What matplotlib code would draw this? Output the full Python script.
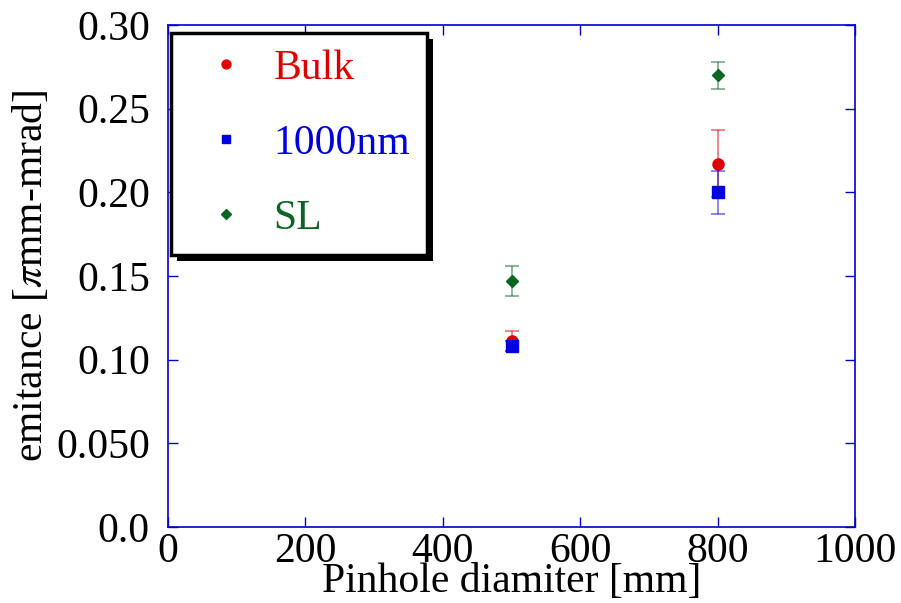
import matplotlib
matplotlib.use("Agg")
import matplotlib.pyplot as plt
from matplotlib.patches import Rectangle

plt.rcParams['font.family'] = ['Liberation Serif', 'DejaVu Serif']
plt.rcParams['mathtext.fontset'] = 'stix'

diam = [500, 800]
bulk = [0.111, 0.217]
bulk_err = [0.006, 0.020]
nm1000 = [0.108, 0.200]
nm1000_err = [0.003, 0.013]
sl = [0.147, 0.270]
sl_err = [0.009, 0.008]

yticks = [0.0, 0.05, 0.10, 0.15, 0.20, 0.25, 0.30]
ylabels = ["0.0", "0.050", "0.10", "0.15", "0.20", "0.25", "0.30"]
xticks = [0, 200, 400, 600, 800, 1000]

red = '#e00000'
blue = '#0000dd'
green = '#0b6623'
spine = '#0000cc'
FS = 30

fig = plt.figure(figsize=(9.01, 6.03), dpi=100)
ax = fig.add_axes([168/901, 1-527/603, (855-168)/901, (527-25)/603])

series = [
    (bulk, bulk_err, red, 'o', 8, 'Bulk'),
    (nm1000, nm1000_err, blue, 's', 8, '1000nm'),
    (sl, sl_err, green, 'D', 6, 'SL'),
]
handles = []
for vals, err, c, m, ms, lab in series:
    ax.errorbar(diam, vals, yerr=err, fmt='none', ecolor=c, elinewidth=1.2,
                capsize=5, capthick=1.2, alpha=0.55)
    h, = ax.plot(diam, vals, linestyle='none', marker=m, color=c,
                 markersize=ms, label=lab)
    handles.append(h)

ax.set_xlim(0, 1000)
ax.set_ylim(0, 0.30)
ax.set_xticks(xticks)
ax.set_yticks(yticks)
ax.set_yticklabels(ylabels)
for s in ax.spines.values():
    s.set_color(spine)
    s.set_linewidth(1.2)
ax.tick_params(direction='in', which='both', top=True, right=True,
               color=spine, length=7, width=1, labelsize=FS)
ax.tick_params(axis='y', pad=13)
ax.tick_params(axis='x', pad=4)
ax.set_xlabel('Pinhole diamiter [mm]', fontsize=FS, labelpad=-6)
ax.set_ylabel(r'emitance [$\pi$mm-mrad]', fontsize=FS, labelpad=4)

leg = ax.legend(handles=handles, loc='upper left', bbox_to_anchor=(0.005, 0.985),
                fontsize=FS, frameon=True, fancybox=False, shadow=False,
                edgecolor='black', borderpad=0.4, labelspacing=0.88,
                handlelength=1.8, handletextpad=0.25, borderaxespad=0,
                markerscale=0.8, framealpha=1)
leg.get_frame().set_linewidth(2.5)
leg.set_zorder(10)
for t, (_, _, c, _, _, _) in zip(leg.get_texts(), series):
    t.set_color(c)

fig.canvas.draw()
bb = leg.get_frame().get_window_extent(fig.canvas.get_renderer())
shadow = Rectangle((bb.x0 + 6, bb.y0 - 6), bb.width, bb.height,
                   transform=None, facecolor='black', edgecolor='none',
                   zorder=9, clip_on=False)
ax.add_artist(shadow)

fig.savefig('out.png', dpi=100)
